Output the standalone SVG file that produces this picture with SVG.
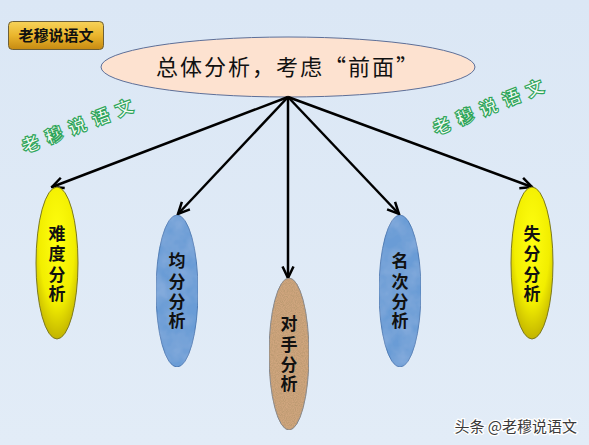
<svg xmlns="http://www.w3.org/2000/svg" width="589" height="445" viewBox="0 0 589 445">
<defs>
<style>
.cjk{font-family:"Noto Sans CJK SC","Noto Sans",sans-serif}
.node{font-family:"Noto Sans CJK SC",sans-serif;font-weight:700;font-size:17px;fill:#111;text-anchor:middle}
.wm{font-family:"Noto Sans CJK SC",sans-serif;font-weight:900;font-size:18px;fill:#f4fbf6;stroke:#2ea55a;stroke-width:1.1;letter-spacing:7px}
.conn{stroke:#000;stroke-width:2.5;fill:none;marker-end:url(#arr)}
</style>
<marker id="arr" viewBox="0 0 14 14" refX="12.5" refY="7" markerWidth="14" markerHeight="14" markerUnits="userSpaceOnUse" orient="auto">
<path d="M1,1.5 L12.5,7 L1,12.5" fill="none" stroke="#000" stroke-width="2.5"/>
</marker>
<linearGradient id="bg" x1="0" y1="0" x2="0" y2="1">
<stop offset="0" stop-color="#dbe7f5"/><stop offset="1" stop-color="#e2ecf7"/>
</linearGradient>
<linearGradient id="gold" x1="0" y1="0" x2="0" y2="1">
<stop offset="0" stop-color="#f7d35a"/><stop offset="0.5" stop-color="#eab52c"/><stop offset="1" stop-color="#c68a12"/>
</linearGradient>
<radialGradient id="yel" cx="0.5" cy="0.35" r="0.7">
<stop offset="0" stop-color="#ffff10"/><stop offset="0.6" stop-color="#f2ee00"/><stop offset="1" stop-color="#b8a800"/>
</radialGradient>
<filter id="tex" x="0" y="0" width="1" height="1">
<feTurbulence type="fractalNoise" baseFrequency="0.9" numOctaves="2" seed="3" result="n"/>
<feColorMatrix in="n" type="matrix" values="0 0 0 0 0.45  0 0 0 0 0.3  0 0 0 0 0.15  0 0 0 -1.6 1.05" result="s"/>
<feComposite in="s" in2="SourceGraphic" operator="in" result="sc"/>
<feMerge><feMergeNode in="SourceGraphic"/><feMergeNode in="sc"/></feMerge>
</filter>
<filter id="btex" x="0" y="0" width="1" height="1">
<feTurbulence type="fractalNoise" baseFrequency="0.06" numOctaves="3" seed="7" result="n"/>
<feColorMatrix in="n" type="matrix" values="0 0 0 0 0.6  0 0 0 0 0.72  0 0 0 0 0.9  0 0 0 0.3 -0.08" result="s"/>
<feComposite in="s" in2="SourceGraphic" operator="in" result="sc"/>
<feMerge><feMergeNode in="SourceGraphic"/><feMergeNode in="sc"/></feMerge>
</filter>
</defs>
<rect width="589" height="445" fill="url(#bg)"/>

<g id="logo">
<rect x="8.5" y="21.5" width="95" height="28" rx="4" fill="url(#gold)" stroke="#6e6038" stroke-width="1"/>
<text x="56" y="41" class="cjk" font-size="15" font-weight="700" text-anchor="middle" fill="#111">老穆说语文</text>
</g>

<g id="watermarks">
<text class="wm" transform="translate(83,131) rotate(-21)" text-anchor="middle">老穆说语文</text>
<text class="wm" transform="translate(494,112) rotate(-22)" text-anchor="middle">老穆说语文</text>
</g>

<g id="main">
<ellipse cx="288" cy="67" rx="187" ry="30" fill="#fde2d0" stroke="#5d6f98" stroke-width="1"/>
<text x="288" y="75" class="cjk" font-size="22" text-anchor="middle" fill="#111" letter-spacing="2">总体分析，考虑“前面”</text>
</g>

<g id="connectors">
<line class="conn" x1="288" y1="97" x2="52" y2="187"/>
<line class="conn" x1="288" y1="97" x2="178" y2="214"/>
<line class="conn" x1="288" y1="97" x2="288" y2="278"/>
<line class="conn" x1="288" y1="97" x2="399" y2="214"/>
<line class="conn" x1="288" y1="97" x2="532" y2="187"/>
</g>

<g id="n1">
<ellipse cx="57" cy="263" rx="21" ry="76" fill="url(#yel)" stroke="#7d7a20" stroke-width="1"/>
<text class="node"><tspan x="57" y="240">难</tspan><tspan x="57" y="260">度</tspan><tspan x="57" y="281">分</tspan><tspan x="57" y="300">析</tspan></text>
</g>
<g id="n2">
<ellipse cx="177" cy="291" rx="21" ry="76" fill="#6b9cd6" stroke="#4d7bb4" stroke-width="1" filter="url(#btex)"/>
<text class="node"><tspan x="177" y="267">均</tspan><tspan x="177" y="288">分</tspan><tspan x="177" y="308">分</tspan><tspan x="177" y="327">析</tspan></text>
</g>
<g id="n3">
<ellipse cx="289" cy="354" rx="20" ry="76" fill="#cfa57e" stroke="#7b8592" stroke-width="1" filter="url(#tex)"/>
<text class="node"><tspan x="289" y="330">对</tspan><tspan x="289" y="351">手</tspan><tspan x="289" y="371">分</tspan><tspan x="289" y="390">析</tspan></text>
</g>
<g id="n4">
<ellipse cx="400" cy="291" rx="21" ry="76" fill="#6b9cd6" stroke="#4d7bb4" stroke-width="1" filter="url(#btex)"/>
<text class="node"><tspan x="400" y="267">名</tspan><tspan x="400" y="288">次</tspan><tspan x="400" y="308">分</tspan><tspan x="400" y="327">析</tspan></text>
</g>
<g id="n5">
<ellipse cx="532" cy="263" rx="21" ry="76" fill="url(#yel)" stroke="#7d7a20" stroke-width="1"/>
<text class="node"><tspan x="532" y="240">失</tspan><tspan x="532" y="260">分</tspan><tspan x="532" y="281">分</tspan><tspan x="532" y="300">析</tspan></text>
</g>

<text x="577" y="432" class="cjk" font-size="15" text-anchor="end" fill="#3a3a3a" stroke="#ffffff" stroke-width="2.5" paint-order="stroke">头条 @老穆说语文</text>
</svg>
